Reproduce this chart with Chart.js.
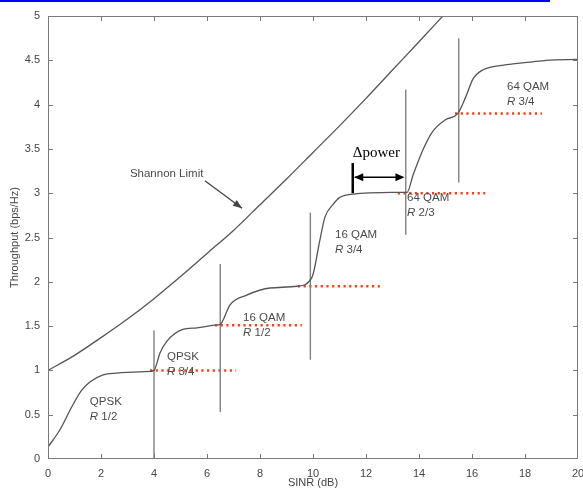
<!DOCTYPE html>
<html>
<head>
<meta charset="utf-8">
<script src="https://cdn.jsdelivr.net/npm/chart.js@4.4.1/dist/chart.umd.min.js"></script>
<style>
html, body { margin: 0; padding: 0; background: #fff; }
#wrap { position: relative; width: 583px; height: 491px; }
#topline { position: absolute; left: 0; top: 0; width: 550px; height: 2px; background: #0000ee; }
</style>
</head>
<body>
<div id="wrap">
  <canvas id="grafica" width="583" height="491"></canvas>
  <div id="topline"></div>
</div>
<script>
// ==============================
// DATOS
// ==============================
const throughputX = [0, 0.45, 0.9, 1.28, 1.58, 2.08, 2.6, 3.2, 3.85, 4.0, 4.23, 4.49, 5.06, 5.62, 6.3, 6.5,
  6.87, 7.5, 8.38, 9.4, 9.96, 10.26, 10.45, 10.75, 11.0, 11.5, 13.0, 13.55, 13.77, 14.15, 14.5, 15.0,
  15.47, 15.77, 16.04, 16.4, 17.3, 18.2, 18.8, 20];
const throughputY = [0.135, 0.33, 0.59, 0.78, 0.87, 0.95, 0.97, 0.98, 0.99, 1.0, 1.2, 1.33, 1.46, 1.48, 1.51, 1.52,
  1.74, 1.85, 1.93, 1.95, 2.05, 2.47, 2.73, 2.87, 2.95, 2.99, 3.01, 3.01, 3.2, 3.49, 3.69, 3.83,
  3.9, 4.09, 4.29, 4.39, 4.45, 4.48, 4.5, 4.51];

const shannonX = [0, 1, 2, 3, 4, 5, 6, 7, 8, 9, 10, 11, 12, 13, 14, 14.9];
const shannonY = [1.0, 1.17, 1.37, 1.58, 1.81, 2.06, 2.32, 2.58, 2.87, 3.16, 3.46, 3.76, 4.07, 4.39, 4.71, 5.0];

// umbrales de conmutacion (lineas grises verticales)
const umbralX = [4, 6.5, 9.9, 13.5, 15.5];
const umbralBajo = [0, 0.53, 1.12, 2.53, 3.12];
const umbralAlto = [1.45, 2.2, 2.78, 4.17, 4.75];

// niveles de cada MCS (lineas rojas punteadas)
const nivelY = [1.0, 1.51, 1.95, 3.0, 3.9];
const nivelDesde = [3.85, 6.3, 9.43, 13.2, 15.36];
const nivelHasta = [7.1, 9.58, 12.64, 16.5, 18.64];

// etiquetas de modulacion
const modulacion = ['QPSK', 'QPSK', '16 QAM', '16 QAM', '64 QAM', '64 QAM'];
const tasa = ['1/2', '3/4', '1/2', '3/4', '2/3', '3/4'];
const etiquetaX = [1.58, 4.49, 7.36, 10.83, 13.55, 17.32];
const etiquetaY = [0.64, 1.15, 1.59, 2.53, 2.95, 4.2];

const ticksX = [0, 2, 4, 6, 8, 10, 12, 14, 16, 18, 20];
const ticksY = [0, 0.5, 1, 1.5, 2, 2.5, 3, 3.5, 4, 4.5, 5];

// ==============================
// DATASETS
// ==============================
const gris = '#555';
const rojo = '#ff3c14';

const datasets = [
  {
    data: throughputX.map((x, i) => ({ x, y: throughputY[i] })),
    borderColor: gris, borderWidth: 1.3, pointRadius: 0, cubicInterpolationMode: 'monotone'
  },
  {
    data: shannonX.map((x, i) => ({ x, y: shannonY[i] })),
    borderColor: gris, borderWidth: 1.3, pointRadius: 0, cubicInterpolationMode: 'monotone'
  }
];

umbralX.forEach((x, i) => {
  datasets.push({
    data: [{ x, y: umbralBajo[i] }, { x, y: umbralAlto[i] }],
    borderColor: '#808080', borderWidth: 1.4, pointRadius: 0
  });
});

nivelY.forEach((y, i) => {
  datasets.push({
    data: [{ x: nivelDesde[i], y }, { x: nivelHasta[i], y }],
    borderColor: rojo, borderWidth: 2.5, borderDash: [2.2, 3.5], pointRadius: 0
  });
});

// ==============================
// PLUGINS
// ==============================
function flecha(ctx, x1, y1, x2, y2, largo, ancho) {
  const ang = Math.atan2(y2 - y1, x2 - x1);
  ctx.beginPath();
  ctx.moveTo(x2, y2);
  ctx.lineTo(x2 - largo * Math.cos(ang) + ancho * Math.sin(ang), y2 - largo * Math.sin(ang) - ancho * Math.cos(ang));
  ctx.lineTo(x2 - largo * Math.cos(ang) - ancho * Math.sin(ang), y2 - largo * Math.sin(ang) + ancho * Math.cos(ang));
  ctx.closePath();
  ctx.fill();
}

const marcoPlugin = {
  id: 'marco',
  afterDatasetsDraw(chart) {
    const { ctx, chartArea: a, scales: { x, y } } = chart;
    ctx.save();
    ctx.strokeStyle = '#7a7a7a';
    ctx.lineWidth = 1;
    ctx.strokeRect(a.left + 0.5, a.top + 0.5, a.width - 1, a.height - 1);
    ctx.beginPath();
    ticksX.slice(1, -1).forEach(v => {
      const px = Math.round(x.getPixelForValue(v)) + 0.5;
      ctx.moveTo(px, a.bottom); ctx.lineTo(px, a.bottom - 5);
      ctx.moveTo(px, a.top); ctx.lineTo(px, a.top + 5);
    });
    ticksY.slice(1, -1).forEach(v => {
      const py = Math.round(y.getPixelForValue(v)) + 0.5;
      ctx.moveTo(a.left, py); ctx.lineTo(a.left + 5, py);
      ctx.moveTo(a.right, py); ctx.lineTo(a.right - 5, py);
    });
    ctx.stroke();
    ctx.restore();
  }
};

const notasPlugin = {
  id: 'notas',
  afterDatasetsDraw(chart) {
    const { ctx, scales: { x, y } } = chart;
    ctx.save();
    ctx.fillStyle = '#4a4a4a';
    ctx.textBaseline = 'middle';
    ctx.textAlign = 'left';

    modulacion.forEach((m, i) => {
      const px = x.getPixelForValue(etiquetaX[i]);
      const py = y.getPixelForValue(etiquetaY[i]);
      ctx.font = '11.5px "Liberation Sans", Arial, sans-serif';
      ctx.fillText(m, px, py);
      ctx.font = 'italic 11.5px "Liberation Sans", Arial, sans-serif';
      ctx.fillText('R', px, py + 15);
      const w = ctx.measureText('R ').width;
      ctx.font = '11.5px "Liberation Sans", Arial, sans-serif';
      ctx.fillText(tasa[i], px + w, py + 15);
    });

    // Shannon Limit + flecha
    ctx.font = '11.5px "Liberation Sans", Arial, sans-serif';
    ctx.fillText('Shannon Limit', x.getPixelForValue(3.09), y.getPixelForValue(3.22));
    const sx1 = x.getPixelForValue(5.92), sy1 = y.getPixelForValue(3.14);
    const sx2 = x.getPixelForValue(7.32), sy2 = y.getPixelForValue(2.83);
    ctx.strokeStyle = '#444';
    ctx.fillStyle = '#444';
    ctx.lineWidth = 1.3;
    ctx.beginPath(); ctx.moveTo(sx1, sy1); ctx.lineTo(sx2, sy2); ctx.stroke();
    flecha(ctx, sx1, sy1, sx2, sy2, 9, 3.5);

    // Delta power
    const bx = x.getPixelForValue(11.5);
    const ax2 = x.getPixelForValue(13.45);
    const ay = y.getPixelForValue(3.18);
    ctx.strokeStyle = '#000';
    ctx.fillStyle = '#000';
    ctx.lineWidth = 2.5;
    ctx.beginPath(); ctx.moveTo(bx, y.getPixelForValue(3.0)); ctx.lineTo(bx, y.getPixelForValue(3.34)); ctx.stroke();
    ctx.lineWidth = 1.5;
    ctx.beginPath(); ctx.moveTo(bx + 2, ay); ctx.lineTo(ax2 - 2, ay); ctx.stroke();
    flecha(ctx, ax2, ay, bx + 1.5, ay, 9, 4);
    flecha(ctx, bx, ay, ax2, ay, 9, 4);
    ctx.font = '15px "Liberation Serif", "Times New Roman", serif';
    ctx.textBaseline = 'alphabetic';
    ctx.fillText('\u0394power', x.getPixelForValue(11.5), y.getPixelForValue(3.41));
    ctx.restore();
  }
};

// ==============================
// CHART
// ==============================
const fuenteTicks = { family: '"Liberation Sans", Arial, sans-serif', size: 11 };

new Chart(document.getElementById('grafica'), {
  type: 'line',
  data: { datasets },
  options: {
    responsive: false,
    animation: false,
    layout: { padding: { top: 16, right: 5, left: 0, bottom: 0 } },
    plugins: { legend: { display: false }, tooltip: { enabled: false } },
    scales: {
      x: {
        type: 'linear', min: 0, max: 20,
        afterFit: s => { s.height = 32; s.paddingLeft = 0; s.paddingRight = 0; },
        afterBuildTicks: s => { s.ticks = ticksX.map(v => ({ value: v })); },
        grid: { display: false, drawTicks: false },
        border: { display: false },
        ticks: { color: '#444', font: fuenteTicks, padding: 8, maxRotation: 0, callback: v => String(v) },
        title: { display: true, text: 'SINR (dB)', color: '#444', font: fuenteTicks, padding: { top: 0, bottom: 1 } }
      },
      y: {
        type: 'linear', min: 0, max: 5,
        afterFit: s => { s.width = 48; s.paddingTop = 0; s.paddingBottom = 0; },
        afterBuildTicks: s => { s.ticks = ticksY.map(v => ({ value: v })); },
        grid: { display: false, drawTicks: false },
        border: { display: false },
        ticks: { color: '#444', font: fuenteTicks, padding: 8, callback: v => String(v) },
        title: { display: true, text: 'Throughput (bps/Hz)', color: '#444', font: fuenteTicks, padding: { top: 8, bottom: 0 } }
      }
    }
  },
  plugins: [marcoPlugin, notasPlugin]
});
</script>
</body>
</html>
